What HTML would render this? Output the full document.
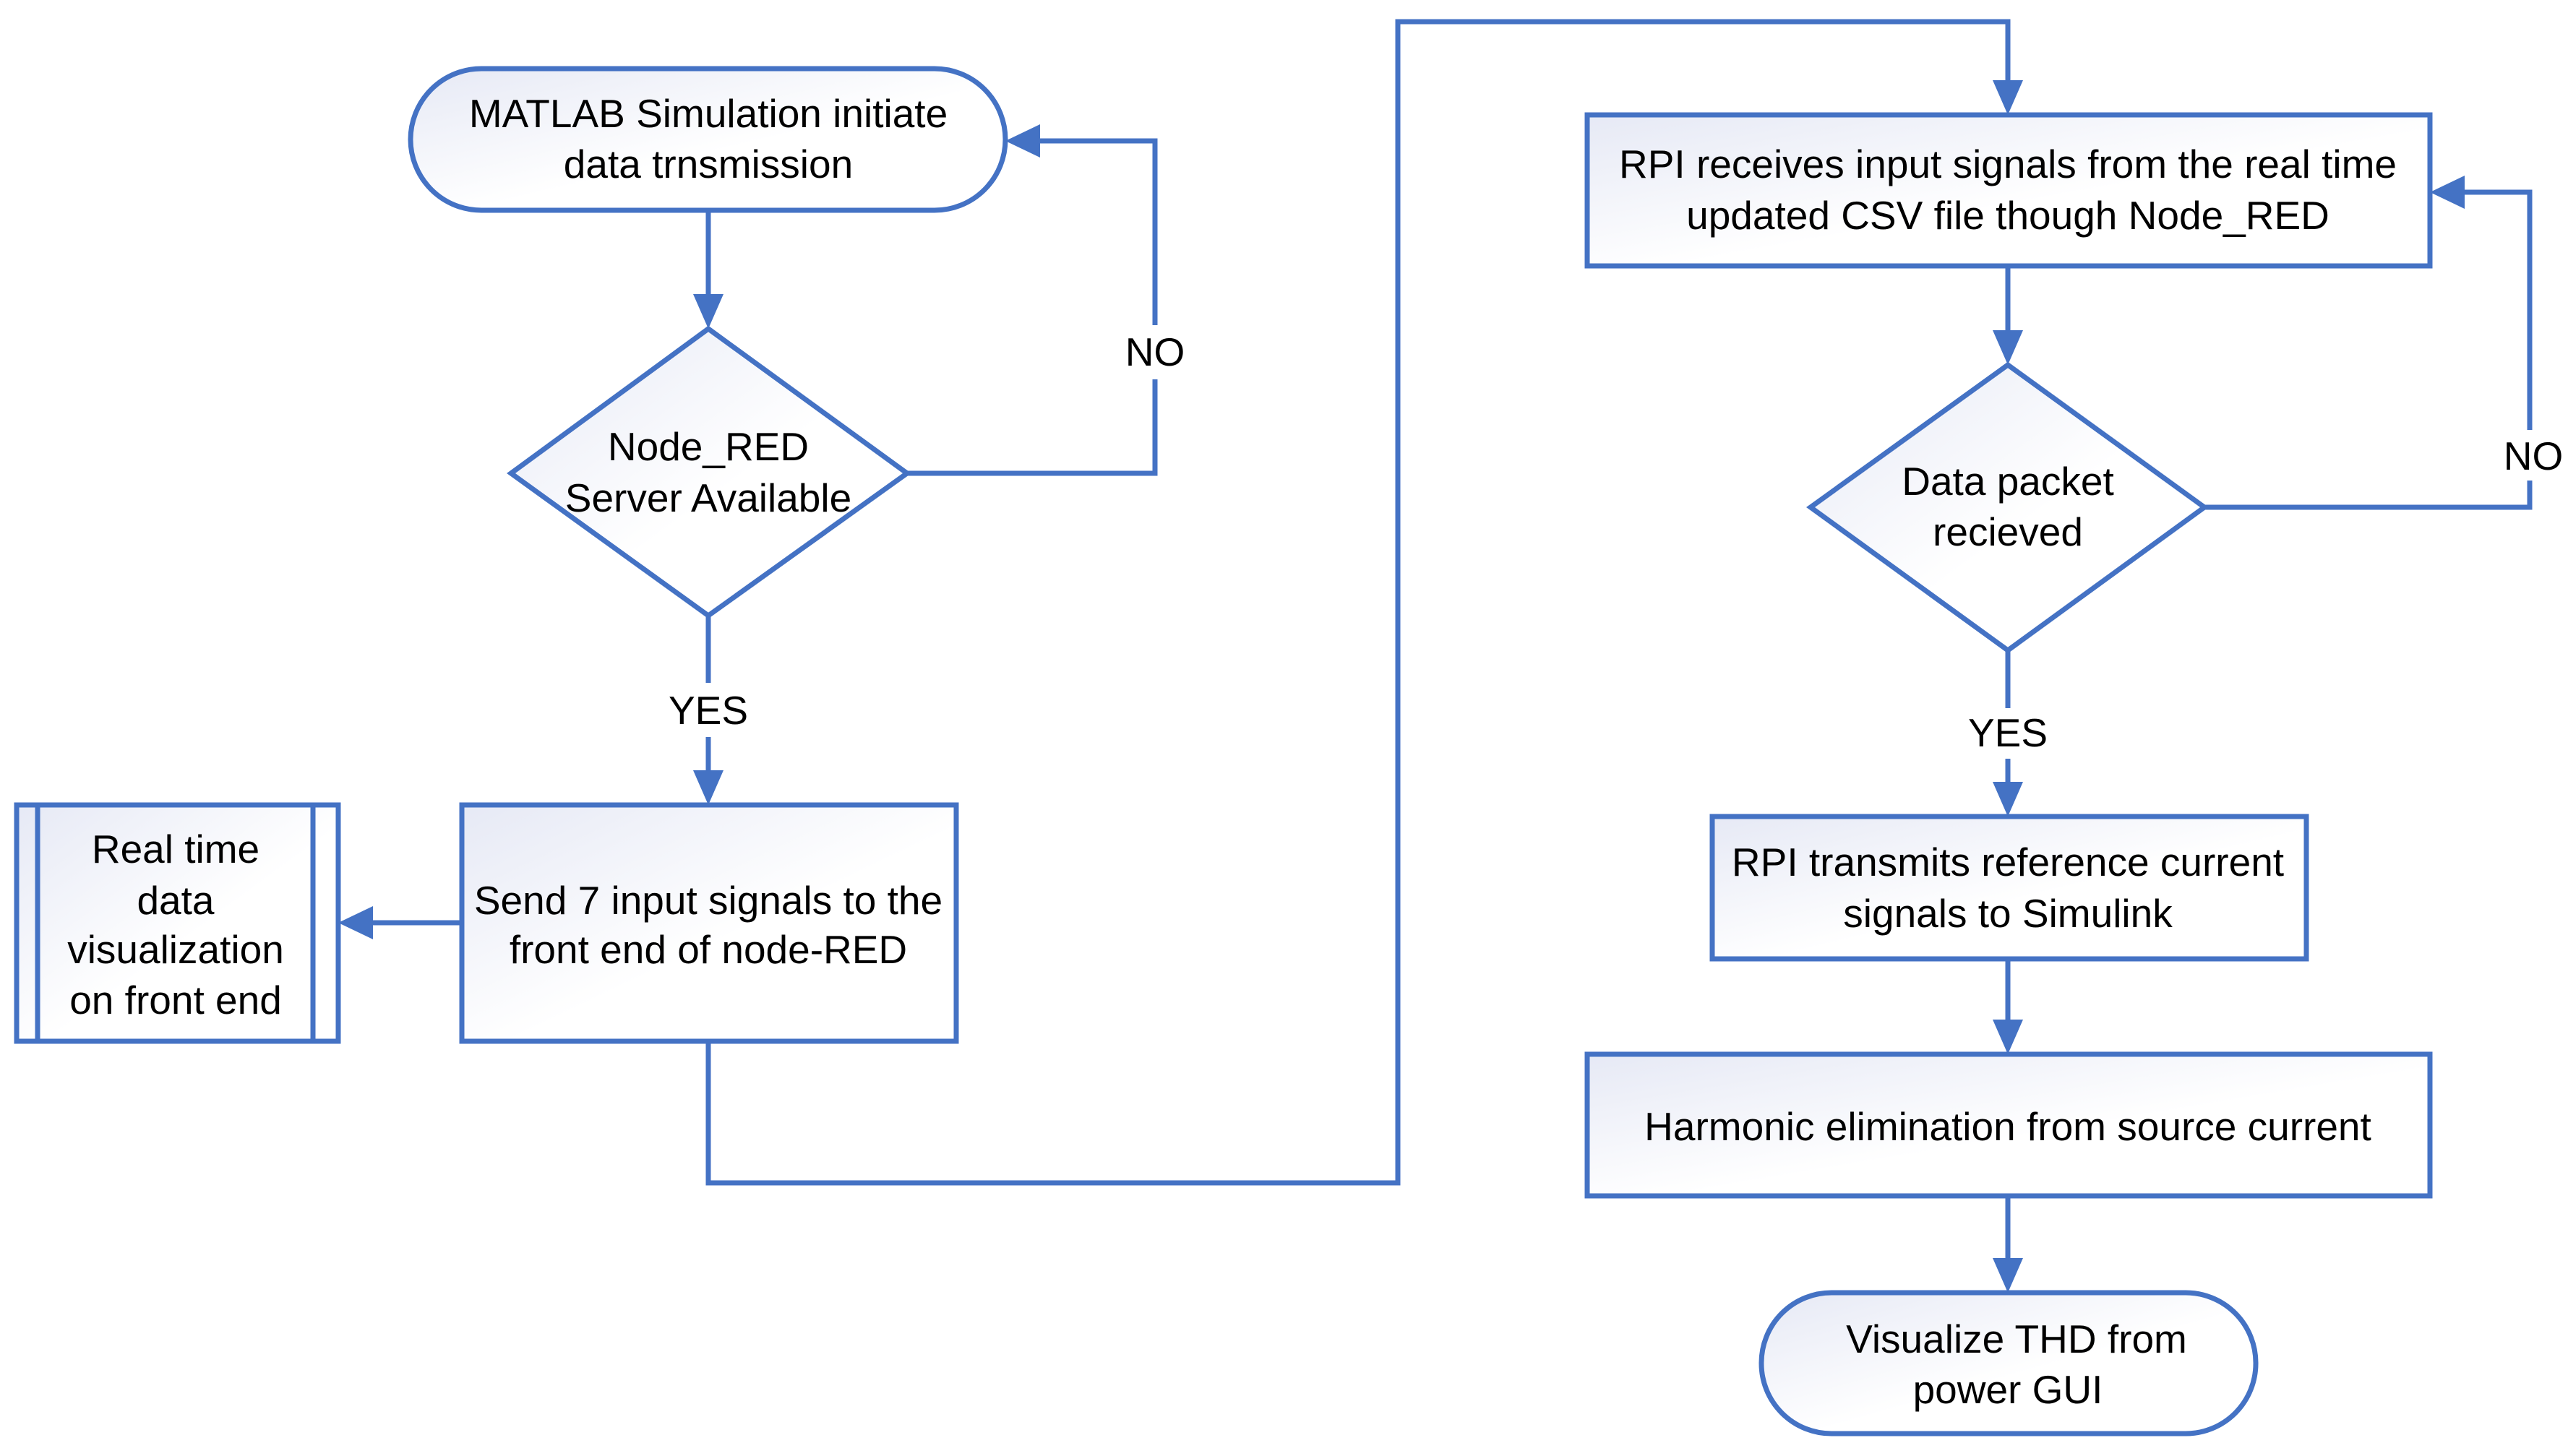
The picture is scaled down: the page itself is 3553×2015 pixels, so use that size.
<!DOCTYPE html>
<html><head><meta charset="utf-8"><style>
html,body{margin:0;padding:0;background:#fff}
svg{display:block}
text{font-family:"Liberation Sans",sans-serif;font-size:55px;fill:#000;text-anchor:middle}
</style></head><body>
<svg width="3553" height="2015" viewBox="0 0 3553 2015" xmlns="http://www.w3.org/2000/svg">
<defs>
<linearGradient id="g" x1="0" y1="0" x2="1" y2="1">
<stop offset="0" stop-color="#e6e9f5"/><stop offset="0.55" stop-color="#ffffff"/><stop offset="1" stop-color="#ffffff"/>
</linearGradient>
</defs>
<g stroke="#4472C4" stroke-width="7" fill="none">
<line x1="980" y1="291" x2="980" y2="410"/>
<polyline points="1255,655 1598,655 1598,525"/>
<polyline points="1598,450 1598,195 1430,195"/>
<line x1="980" y1="852" x2="980" y2="945"/>
<line x1="980" y1="1020" x2="980" y2="1070"/>
<line x1="639" y1="1277" x2="510" y2="1277"/>
<polyline points="980,1441 980,1637 1934,1637 1934,30 2778,30 2778,115"/>
<line x1="2778" y1="368" x2="2778" y2="462"/>
<polyline points="3050,702 3500,702 3500,665"/>
<polyline points="3500,595 3500,266 3402,266"/>
<line x1="2778" y1="900" x2="2778" y2="980"/>
<line x1="2778" y1="1050" x2="2778" y2="1088"/>
<line x1="2778" y1="1327" x2="2778" y2="1415"/>
<line x1="2778" y1="1655" x2="2778" y2="1745"/>
</g>
<g fill="#4472C4">
<polygon points="959,407 1001,407 980,455"/>
<polygon points="1439,172 1439,218 1391,195"/>
<polygon points="959,1066 1001,1066 980,1114"/>
<polygon points="516,1254 516,1300 468,1277"/>
<polygon points="2757,111 2799,111 2778,159"/>
<polygon points="2757,457 2799,457 2778,505"/>
<polygon points="3410,243 3410,289 3362,266"/>
<polygon points="2757,1082 2799,1082 2778,1130"/>
<polygon points="2757,1411 2799,1411 2778,1459"/>
<polygon points="2757,1741 2799,1741 2778,1789"/>
</g>
<g stroke="#4472C4" stroke-width="7" fill="url(#g)">
<rect x="568" y="95" width="823" height="196" rx="98"/>
<polygon points="980,455 1255,655 980,852 707,655"/>
<rect x="639" y="1114" width="684" height="327"/>
<rect x="23" y="1114" width="445" height="327"/>
<line x1="52" y1="1114" x2="52" y2="1441"/>
<line x1="433" y1="1114" x2="433" y2="1441"/>
<rect x="2196" y="159" width="1166" height="209"/>
<polygon points="2778,505 3050,702 2778,900 2505,702"/>
<rect x="2369" y="1130" width="822" height="197"/>
<rect x="2196" y="1459" width="1166" height="196"/>
<rect x="2437" y="1789" width="684" height="195" rx="97"/>
</g>
<text x="980" y="176">MATLAB Simulation initiate</text>
<text x="980" y="246">data trnsmission</text>
<text x="980" y="637">Node_RED</text>
<text x="980" y="708">Server Available</text>
<text x="1598" y="506">NO</text>
<text x="980" y="1002">YES</text>
<text x="980" y="1265">Send 7 input signals to the</text>
<text x="980" y="1333">front end of node-RED</text>
<text x="243" y="1194">Real time</text>
<text x="243" y="1265">data</text>
<text x="243" y="1333">visualization</text>
<text x="243" y="1403">on front end</text>
<text x="2778" y="246">RPI receives input signals from the real time</text>
<text x="2778" y="317">updated CSV file though Node_RED</text>
<text x="2778" y="685">Data packet</text>
<text x="2778" y="755">recieved</text>
<text x="3505" y="650">NO</text>
<text x="2778" y="1033">YES</text>
<text x="2778" y="1212">RPI transmits reference current</text>
<text x="2778" y="1283">signals to Simulink</text>
<text x="2778" y="1578">Harmonic elimination from source current</text>
<text x="2790" y="1872">Visualize THD from</text>
<text x="2778" y="1942">power GUI</text>
</svg>
</body></html>
